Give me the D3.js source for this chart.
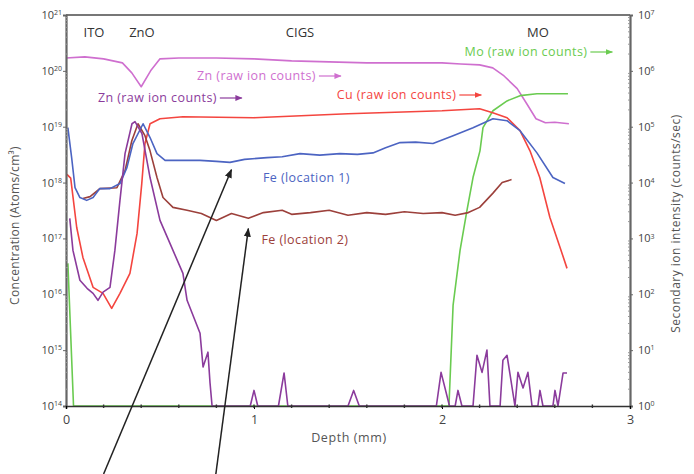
<!DOCTYPE html>
<html>
<head>
<meta charset="utf-8">
<script src="https://cdn.jsdelivr.net/npm/d3@7"></script>
<style>
  body { margin: 0; background: #fff; }
  text { font-family: "Open Sans", "Noto Sans", sans-serif; }
</style>
</head>
<body>
<div id="chartDiv"></div>
<script>
// Data: depth in mm, Fe in atoms/cm3 (left axis), raw ion counts in counts/sec (right axis)
const znTopDepth = [0, 0.1, 0.2, 0.3, 0.35, 0.4, 0.45, 0.5, 0.6, 0.8, 1.0, 1.2, 1.4, 1.6, 1.8, 2.0, 2.1, 2.2, 2.27, 2.33, 2.4, 2.45, 2.5, 2.55, 2.6, 2.675];
const znTopCounts = [1.7e6, 1.78e6, 1.64e6, 1.39e6, 9.2e5, 5.2e5, 1.0e6, 1.64e6, 1.7e6, 1.7e6, 1.64e6, 1.51e6, 1.45e6, 1.39e6, 1.39e6, 1.39e6, 1.33e6, 1.28e6, 1.13e6, 8.1e5, 4.8e5, 2.6e5, 1.39e5, 1.18e5, 1.2e5, 1.13e5];

const cuDepth = [0.005, 0.025, 0.057, 0.09, 0.144, 0.197, 0.243, 0.287, 0.34, 0.378, 0.403, 0.42, 0.447, 0.5, 0.622, 1.0, 1.5, 2.0, 2.2, 2.27, 2.346, 2.415, 2.468, 2.52, 2.574, 2.628, 2.665];
const cuCounts = [1.4e4, 1.2e4, 1.57e3, 457, 133, 104, 56, 104, 237, 1.23e3, 9.6e3, 4.97e4, 1.13e5, 1.39e5, 1.51e5, 1.45e5, 1.71e5, 1.93e5, 2.1e5, 1.78e5, 1.45e5, 8.5e4, 3.7e4, 1.23e4, 2.37e3, 690, 291];

const fe1Depth = [0.01, 0.03, 0.048, 0.074, 0.11, 0.144, 0.18, 0.234, 0.287, 0.324, 0.356, 0.41, 0.447, 0.484, 0.527, 0.59, 0.713, 0.8, 0.872, 0.95, 1.069, 1.15, 1.245, 1.35, 1.457, 1.55, 1.633, 1.7, 1.777, 1.86, 1.952, 2.059, 2.165, 2.271, 2.346, 2.415, 2.505, 2.59, 2.654];
const fe1Conc = [9.6e18, 2.8e18, 8.1e17, 5.4e17, 4.8e17, 5.4e17, 7.8e17, 7.8e17, 9.6e17, 1.85e18, 5.0e18, 1.13e19, 6.4e18, 3.3e18, 2.5e18, 2.5e18, 2.5e18, 2.4e18, 2.3e18, 2.6e18, 2.8e18, 2.9e18, 3.3e18, 3.1e18, 3.3e18, 3.2e18, 3.4e18, 4.2e18, 5.2e18, 5.3e18, 5.0e18, 6.9e18, 9.6e18, 1.39e19, 1.28e19, 8.5e18, 3.4e18, 1.23e18, 9.6e17];

const fe2Depth = [0.09, 0.128, 0.18, 0.271, 0.314, 0.35, 0.383, 0.42, 0.447, 0.484, 0.516, 0.569, 0.644, 0.72, 0.8, 0.88, 0.97, 1.05, 1.15, 1.2, 1.3, 1.4, 1.5, 1.6, 1.7, 1.8, 1.9, 2.0, 2.07, 2.14, 2.2, 2.27, 2.32, 2.37];
const fe2Conc = [5.2e17, 5.6e17, 7.8e17, 8.1e17, 1.64e18, 5.6e18, 1.13e19, 6.9e18, 3.7e18, 1.23e18, 5.4e17, 3.6e17, 3.2e17, 2.8e17, 2.1e17, 2.8e17, 2.3e17, 2.9e17, 3.2e17, 2.7e17, 2.9e17, 3.2e17, 2.6e17, 2.9e17, 2.7e17, 3.0e17, 2.8e17, 2.9e17, 2.6e17, 2.9e17, 3.6e17, 6.4e17, 1.0e18, 1.13e18];

const znLowDepth = [0.02, 0.037, 0.074, 0.112, 0.144, 0.17, 0.197, 0.234, 0.26, 0.287, 0.314, 0.351, 0.367, 0.404, 0.447, 0.5, 0.553, 0.622, 0.644, 0.713, 0.729, 0.755, 0.766, 0.777,
  0.98, 1.0, 1.02, 1.13, 1.16, 1.18, 1.5, 1.53, 1.56, 1.97, 1.995, 2.04, 2.07, 2.085, 2.106, 2.165, 2.186, 2.213, 2.239, 2.255, 2.309, 2.324, 2.346, 2.388, 2.404, 2.431, 2.457, 2.479, 2.51, 2.521, 2.537, 2.59, 2.601, 2.617, 2.644, 2.665];
const znLowCounts = [2.28e3, 611, 178, 128, 104, 78, 109, 133, 611, 4.8e3, 3.3e4, 1.13e5, 1.23e5, 7.5e4, 1.23e4, 2.1e3, 815, 237, 78, 20, 5, 9.2, 2.6, 1,
  1, 1.9, 1, 1, 3.9, 1, 1, 1.9, 1, 1, 4, 1, 1, 1.9, 1, 1, 8.1, 4, 10, 1, 1, 6.6, 8.1, 1, 4, 2.1, 4, 1, 1, 1.9, 1, 1, 1.9, 1, 3.9, 3.9];

const moDepth = [0.01, 0.04, 2.037, 2.059, 2.096, 2.133, 2.165, 2.202, 2.218, 2.271, 2.346, 2.415, 2.505, 2.67];
const moCounts = [358, 1, 1, 64, 611, 3.2e3, 1.23e4, 3.7e4, 9.6e4, 1.93e5, 2.9e5, 3.6e5, 3.9e5, 3.9e5];

const xTicks = [0, 1, 2, 3];
const leftExps = [14, 15, 16, 17, 18, 19, 20, 21];
const rightExps = [0, 1, 2, 3, 4, 5, 6, 7];
const layers = [["ITO", 0.149], ["ZnO", 0.404], ["CIGS", 1.245], ["MO", 2.51]];

// Build Variables
const vars = {
  width: 694, height: 474,
  margin: { left: 66, right: 64, top: 15, bottom: 68 },
  xLabel: 'Depth (mm)',
  yLabel: 'Concentration (Atoms/cm\u00B3)',
  y2Label: 'Secondary ion intensity (counts/sec)'
};
const innerH = vars.height - vars.margin.top - vars.margin.bottom;
const innerW = vars.width - vars.margin.left - vars.margin.right;

const colors = {
  znTop: '#cf6fcf', znLow: '#8b3b9c', cu: '#f4453f',
  fe1: '#4c64c2', fe2: '#9c403b', mo: '#6acb50'
};

const svg = d3.select('#chartDiv').append('svg')
  .attr('width', vars.width).attr('height', vars.height);
const g = svg.append('g')
  .attr('transform', `translate(${vars.margin.left},${vars.margin.top})`);

const xScale = d3.scaleLinear().domain([0, 3]).range([0, innerW]);
const yLeft = d3.scaleLog().domain([1e14, 1e21]).range([innerH, 0]);
const yRight = d3.scaleLog().domain([1, 1e7]).range([innerH, 0]);

// lines
const series = [
  { depth: znTopDepth, vals: znTopCounts, scale: yRight, color: colors.znTop },
  { depth: moDepth, vals: moCounts, scale: yRight, color: colors.mo },
  { depth: cuDepth, vals: cuCounts, scale: yRight, color: colors.cu },
  { depth: fe2Depth, vals: fe2Conc, scale: yLeft, color: colors.fe2 },
  { depth: fe1Depth, vals: fe1Conc, scale: yLeft, color: colors.fe1 },
  { depth: znLowDepth, vals: znLowCounts, scale: yRight, color: colors.znLow }
];

series.forEach(s => {
  const line = d3.line()
    .x((d, i) => xScale(s.depth[i]))
    .y(d => s.scale(d));
  g.append('path')
    .datum(s.vals)
    .attr('d', line)
    .attr('fill', 'none')
    .attr('stroke', s.color)
    .attr('stroke-width', 1.6)
    .attr('stroke-linejoin', 'round');
});

// frame top
g.append('line')
  .attr('x1', 0).attr('x2', innerW).attr('y1', 0).attr('y2', 0)
  .attr('stroke', '#777').attr('stroke-width', 2);

// minor log ticks
const minorVals = [];
leftExps.slice(0, -1).forEach(e => { for (let k = 2; k < 10; k++) minorVals.push(k * Math.pow(10, e)); });

// LEFT AXIS
const yAxisL = d3.axisLeft(yLeft)
  .tickValues(leftExps.map(e => Math.pow(10, e)))
  .tickSize(3).tickPadding(5).tickFormat(() => '10');
const yAxisLG = g.append('g').call(yAxisL);
yAxisLG.append('g').selectAll('line').data(minorVals).enter().append('line')
  .attr('x1', 0).attr('x2', 2).attr('y1', d => yLeft(d)).attr('y2', d => yLeft(d))
  .attr('stroke', '#999').attr('stroke-width', 1);

// RIGHT AXIS
const yAxisR = d3.axisRight(yRight)
  .tickValues(rightExps.map(e => Math.pow(10, e)))
  .tickSize(3).tickPadding(5).tickFormat(() => '10');
const yAxisRG = g.append('g').attr('transform', `translate(${innerW},0)`).call(yAxisR);
yAxisRG.append('g').selectAll('line').data(minorVals).enter().append('line')
  .attr('x1', 0).attr('x2', -2).attr('y1', d => yLeft(d)).attr('y2', d => yLeft(d))
  .attr('stroke', '#999').attr('stroke-width', 1);

[[yAxisLG, leftExps], [yAxisRG, rightExps]].forEach(([ax, exps]) => {
  ax.select('.domain').attr('stroke', '#666').attr('stroke-width', 2.2);
  ax.selectAll('.tick line').attr('stroke', '#666');
  ax.selectAll('.tick text')
    .attr('fill', '#444').style('font-size', '11px')
    .each(function(d, i) {
      d3.select(this).append('tspan')
        .attr('dy', '-0.55em').style('font-size', '7px')
        .text(exps[i]);
    });
});
yAxisLG.selectAll('.tick text').attr('dx', 4);

// X AXIS
const xAxis = d3.axisBottom(xScale).tickValues(xTicks).tickSize(3).tickPadding(6).tickFormat(d3.format('d'));
const xAxisG = g.append('g').attr('transform', `translate(0,${innerH})`).call(xAxis);
xAxisG.select('.domain').attr('stroke', '#333').attr('stroke-width', 1.6);
xAxisG.selectAll('.tick text').attr('fill', '#444').style('font-size', '12.5px');
xAxisG.append('g').selectAll('line').data(d3.range(0.2, 3, 0.2)).enter().append('line')
  .attr('x1', d => xScale(d)).attr('x2', d => xScale(d)).attr('y1', -1.5).attr('y2', 2)
  .attr('stroke', '#333').attr('stroke-width', 1.4);

// axis labels
g.append('text')
  .attr('x', xScale(1.505)).attr('y', innerH + 36)
  .attr('text-anchor', 'middle').attr('fill', '#555')
  .style('font-size', '12.5px').style('letter-spacing', '0.6px')
  .text(vars.xLabel);
g.append('text')
  .attr('transform', `translate(${-47},${innerH / 2 + 15}) rotate(-90)`)
  .attr('text-anchor', 'middle').attr('fill', '#555')
  .style('font-size', '12px').style('letter-spacing', '0.3px')
  .text(vars.yLabel);
g.append('text')
  .attr('transform', `translate(${innerW + 50},${innerH / 2 + 13}) rotate(-90)`)
  .attr('text-anchor', 'middle').attr('fill', '#555')
  .style('font-size', '12px').style('letter-spacing', '0.5px')
  .text(vars.y2Label);

// layer labels
g.selectAll('.layer').data(layers).enter().append('text')
  .attr('x', d => xScale(d[1])).attr('y', 22)
  .attr('text-anchor', 'middle').attr('fill', '#333').style('font-size', '13px')
  .text(d => d[0]);

// series labels with little arrows
const defs = svg.append('defs');
function arrowMarker(id, color) {
  defs.append('marker').attr('id', id)
    .attr('viewBox', '0 0 10 10').attr('refX', 9).attr('refY', 5)
    .attr('markerWidth', 6).attr('markerHeight', 6).attr('orient', 'auto')
    .append('path').attr('d', 'M0,1L10,5L0,9Z').attr('fill', color);
}
const seriesLabels = [
  { text: 'Zn (raw ion counts)', d: 0.697, y: 65, color: colors.znTop, arrow: 22 },
  { text: 'Zn (raw ion counts)', d: 0.17, y: 87, color: colors.znLow, arrow: 22 },
  { text: 'Cu (raw ion counts)', d: 1.44, y: 84, color: colors.cu, arrow: 22 },
  { text: 'Mo (raw ion counts)', d: 2.12, y: 41, color: colors.mo, arrow: 22 },
  { text: 'Fe (location 1)', d: 1.048, y: 167, color: colors.fe1, arrow: 0 },
  { text: 'Fe (location 2)', d: 1.04, y: 229, color: colors.fe2, arrow: 0 }
];
seriesLabels.forEach((l, i) => {
  const t = g.append('text')
    .attr('x', xScale(l.d)).attr('y', l.y)
    .attr('fill', l.color)
    .style('font-size', '12.5px').style('letter-spacing', '0.4px')
    .text(l.text);
  if (l.arrow) {
    const w = t.node().getComputedTextLength();
    arrowMarker('arr' + i, l.color);
    g.append('line')
      .attr('x1', xScale(l.d) + w + 3).attr('x2', xScale(l.d) + w + 3 + l.arrow)
      .attr('y1', l.y - 4).attr('y2', l.y - 4)
      .attr('stroke', l.color).attr('stroke-width', 1.2)
      .attr('marker-end', `url(#arr${i})`);
  }
});

// black pointer arrows
arrowMarker('arrBlack', '#222');
const pointers = [
  { from: 0.2, to: [0.88, 1.7e18] },
  { from: 0.797, to: [0.97, 1.5e17] }
];
pointers.forEach(p => {
  g.append('line')
    .attr('x1', xScale(p.from)).attr('y1', vars.height - vars.margin.top)
    .attr('x2', xScale(p.to[0])).attr('y2', yLeft(p.to[1]))
    .attr('stroke', '#222').attr('stroke-width', 1.5)
    .attr('marker-end', 'url(#arrBlack)');
});
</script>
</body>
</html>
